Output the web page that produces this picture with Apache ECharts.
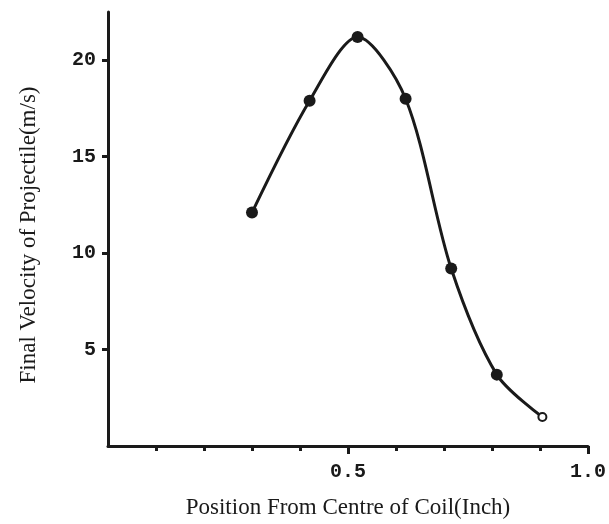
<!DOCTYPE html>
<html lang="en">
<head>
    <meta charset="UTF-8">
    <title>Final Velocity vs Position</title>
    <script src="https://cdn.jsdelivr.net/npm/echarts@6.0.0/dist/echarts.min.js"></script>
    <style>
        html, body { margin: 0; padding: 0; background: #fff; }
    </style>
</head>
<body>
    <div id="main" style="width: 609px; height: 524px;"></div>
    <script>
        const myChart = echarts.init(document.getElementById('main'));

        // measured points
        const positions = [0.30, 0.42, 0.52, 0.62, 0.715, 0.81, 0.905];
        const velocities = [12.1, 17.9, 21.2, 18.0, 9.2, 3.7, 1.5];

        const xTickLabels = [0.5, 1.0];
        const yTickLabels = [5, 10, 15, 20];

        const ink = '#1a1a1a';

        const data = positions.map(function (x, i) {
            const item = { value: [x, velocities[i]] };
            if (i === positions.length - 1) {
                item.symbolSize = 8;
                item.itemStyle = { color: '#fff', borderColor: ink, borderWidth: 2 };
            }
            return item;
        });

        const options = {
            backgroundColor: '#fff',
            animation: false,
            grid: {
                left: 108,
                right: 15,
                top: 12,
                bottom: 75
            },
            xAxis: {
                type: 'value',
                min: 0,
                max: 1.0,
                interval: 0.5,
                name: 'Position From Centre of Coil(Inch)',
                nameLocation: 'middle',
                nameGap: 50,
                nameTextStyle: {
                    fontFamily: 'Liberation Serif',
                    fontSize: 23,
                    color: ink
                },
                axisLine: {
                    show: true,
                    lineStyle: { color: ink, width: 3 }
                },
                axisTick: {
                    show: true,
                    customValues: xTickLabels,
                    length: 8,
                    lineStyle: { color: ink, width: 3 }
                },
                minorTick: {
                    show: true,
                    splitNumber: 5,
                    length: 5,
                    lineStyle: { color: ink, width: 3 }
                },
                axisLabel: {
                    customValues: xTickLabels,
                    margin: 16,
                    fontFamily: 'Liberation Mono',
                    fontSize: 20,
                    fontWeight: 'bold',
                    color: ink,
                    formatter: function (v) { return v.toFixed(1); }
                },
                splitLine: { show: false }
            },
            yAxis: {
                type: 'value',
                min: 0,
                max: 22.5,
                interval: 5,
                name: 'Final Velocity of Projectile(m/s)',
                nameLocation: 'middle',
                nameGap: 68,
                nameTextStyle: {
                    fontFamily: 'Liberation Serif',
                    fontSize: 23,
                    color: ink,
                    padding: [0, 12, 0, 0]
                },
                axisLine: {
                    show: true,
                    lineStyle: { color: ink, width: 3 }
                },
                axisTick: {
                    show: true,
                    customValues: yTickLabels,
                    length: 6,
                    lineStyle: { color: ink, width: 3 }
                },
                axisLabel: {
                    customValues: yTickLabels,
                    margin: 12,
                    fontFamily: 'Liberation Mono',
                    fontSize: 20,
                    fontWeight: 'bold',
                    color: ink
                },
                splitLine: { show: false }
            },
            series: [{
                type: 'line',
                data: data,
                smooth: 0.3,
                symbol: 'circle',
                symbolSize: 12,
                itemStyle: { color: ink },
                lineStyle: { color: ink, width: 3 }
            }]
        };

        myChart.setOption(options);
    </script>
</body>
</html>
